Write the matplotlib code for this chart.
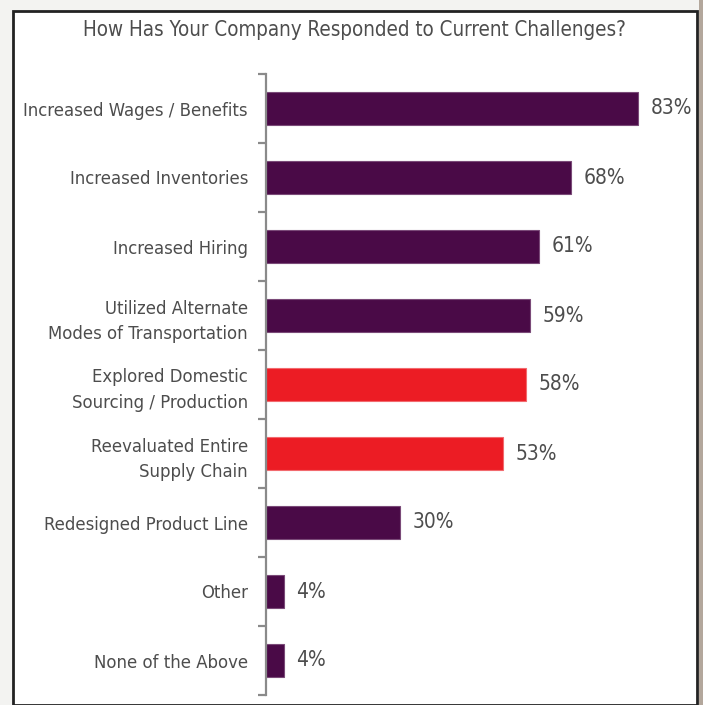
import matplotlib.pyplot as plt
from matplotlib.patches import Rectangle

# data
categories = ['Increased Wages / Benefits', 'Increased Inventories', 'Increased Hiring',
              'Utilized Alternate\nModes of Transportation', 'Explored Domestic\nSourcing / Production',
              'Reevaluated Entire\nSupply Chain', 'Redesigned Product Line', 'Other', 'None of the Above']
values = [83, 68, 61, 59, 58, 53, 30, 4, 4]
highlight = [False, False, False, False, True, True, False, False, False]

purple = '#4a0a47'
red = '#ec1c24'
text_col = '#4d4d4d'

plt.rcParams['font.family'] = ['Liberation Sans Narrow', 'DejaVu Sans']
plt.rcParams['font.stretch'] = 'condensed'

W, H = 703, 705
fig = plt.figure(figsize=(W / 100, H / 100), dpi=100, facecolor='#f3f3f1')

# white card with dark border + brown strip on the right
fig.patches.append(Rectangle((13 / W, 0), (697 - 13) / W, 1 - 11 / H, transform=fig.transFigure,
                             facecolor='white', edgecolor='#222222', linewidth=2, zorder=-5))
fig.patches.append(Rectangle((699 / W, 0), 4 / W, 1, transform=fig.transFigure,
                             facecolor='#b3a79c', edgecolor='none', zorder=-5))

fig.text(354 / W, 1 - 30 / H, 'How Has Your Company Responded to Current Challenges?',
         ha='center', va='center', fontsize=14.8, color=text_col)

ax = fig.add_axes([266 / W, 1 - 695 / H, (696 - 266) / W, (695 - 74) / H])
ax.set_facecolor('none')

y = list(range(len(categories)))
colors = [red if h else purple for h in highlight]
edges = ['#f26a6e' if h else '#7a4a78' for h in highlight]
bars = ax.barh(y, values, height=0.49, color=colors, edgecolor=edges, linewidth=0.8)

for b, v in zip(bars, values):
    ax.annotate(f'{v}%', (b.get_width(), b.get_y() + b.get_height() / 2),
                xytext=(9, 0), textcoords='offset points', va='center', ha='left',
                fontsize=15, color=text_col)

ax.set_xlim(0, 430 / 4.48)
ax.set_ylim(len(categories) - 0.5, -0.5)

ax.set_yticks(y)
ax.set_yticklabels(categories, fontsize=13.2, color=text_col, ha='right', linespacing=1.55)
ax.tick_params(axis='y', which='major', length=0, pad=13)
ax.set_yticks([i - 0.5 for i in range(len(categories) + 1)], minor=True)
ax.tick_params(axis='y', which='minor', length=6, width=1.6, color='#8a8a8a')
ax.set_xticks([])

for s in ['top', 'right', 'bottom']:
    ax.spines[s].set_visible(False)
ax.spines['left'].set_color('#8a8a8a')
ax.spines['left'].set_linewidth(1.6)

fig.savefig('out.png', dpi=100, facecolor=fig.get_facecolor())
